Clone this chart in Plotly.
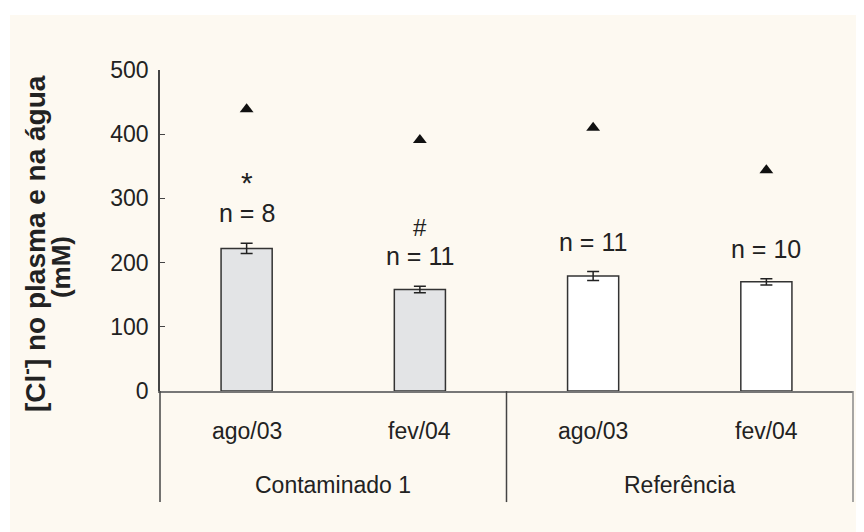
import plotly.graph_objects as go

# ---- data ----
groups = ["Contaminado 1", "Contaminado 1", "Referência", "Referência"]
periods = ["ago/03", "fev/04", "ago/03", "fev/04"]
plasma_mean = [222, 158, 179, 170]
plasma_err = [8, 5, 7, 5]
water = [439, 391, 410, 344]
n_labels = ["n = 8", "n = 11", "n = 11", "n = 10"]
sig_marks = ["*", "#", "", ""]
bar_colors = ["#e3e4e6", "#e3e4e6", "#ffffff", "#ffffff"]
y_ticks = [0, 100, 200, 300, 400, 500]
y_title = ["[Cl<sup>-</sup>] no plasma e na água", "(mM)"]

FONT = "Liberation Sans, Arial, sans-serif"
TXT = "#222222"
CREAM = "#fdf9f1"

xs = list(range(len(periods)))

fig = go.Figure()
fig.add_trace(go.Bar(
    x=xs, y=plasma_mean, width=0.295,
    marker=dict(color=bar_colors, line=dict(color="#333333", width=1.5)),
    error_y=dict(type="data", array=plasma_err, visible=True,
                 color="#222222", thickness=1.5, width=6),
    showlegend=False, hoverinfo="skip",
))
fig.add_trace(go.Scatter(
    x=xs, y=water, mode="markers",
    marker=dict(symbol="triangle-up", size=12, color="#111111"),
    showlegend=False, hoverinfo="skip",
))

annotations = []
for i, (m, e, nl, sm) in enumerate(zip(plasma_mean, plasma_err, n_labels, sig_marks)):
    annotations.append(dict(x=i, y=m + e, xref="x", yref="y", text=nl,
                            showarrow=False, yanchor="middle", yshift=30,
                            font=dict(family=FONT, size=25, color=TXT)))
    if sm:
        annotations.append(dict(x=i, y=m + e, xref="x", yref="y", text=sm,
                                showarrow=False, yanchor="middle",
                                yshift=61 if sm == "*" else 59,
                                font=dict(family=FONT, size=30 if sm == "*" else 24,
                                          color=TXT)))
    annotations.append(dict(x=i, y=0, xref="x", yref="paper", text=periods[i],
                            showarrow=False, yanchor="middle", yshift=-40,
                            font=dict(family=FONT, size=23, color=TXT)))

# group labels
uniq = []
for g in groups:
    if g not in uniq:
        uniq.append(g)
for g in uniq:
    idx = [i for i, gg in enumerate(groups) if gg == g]
    annotations.append(dict(x=sum(idx) / len(idx), y=0, xref="x", yref="paper",
                            text=g, showarrow=False, yanchor="middle", yshift=-94,
                            font=dict(family=FONT, size=23, color=TXT)))

# y-axis title (two lines)
annotations.append(dict(
    x=0, y=0.458, xref="paper", yref="paper", xshift=-127,
    text="<b>" + y_title[0] + "</b>",
    textangle=-90, showarrow=False, xanchor="center", yanchor="middle",
    font=dict(family=FONT, size=28, color=TXT)))
annotations.append(dict(
    x=0, y=0.386, xref="paper", yref="paper", xshift=-99,
    text="<b>" + y_title[1] + "</b>",
    textangle=-90, showarrow=False, xanchor="center", yanchor="middle",
    font=dict(family=FONT, size=26, color=TXT)))

shapes = [
    dict(type="rect", xref="paper", yref="paper", x0=-0.2165, x1=1.02,
         y0=-0.45, y1=1.171, fillcolor=CREAM, line=dict(width=0), layer="below"),
]
# group separators
n = len(periods)
bounds = [0]
for i in range(1, n):
    if groups[i] != groups[i - 1]:
        bounds.append(i / n)
bounds.append(1)
for b in bounds:
    shapes.append(dict(type="line", xref="paper", yref="paper", x0=b, x1=b,
                       y0=0, y1=-0.346,
                       line=dict(color="#444444" if b != 1 else "#888888", width=1.5)))

fig.update_layout(
    width=856, height=524,
    margin=dict(l=152, r=11, t=62, b=141),
    paper_bgcolor="white", plot_bgcolor=CREAM,
    font=dict(family=FONT, color=TXT),
    annotations=annotations, shapes=shapes,
    xaxis=dict(range=[-0.5, n - 0.5], showticklabels=False, ticks="",
               showgrid=False, zeroline=False, showline=True,
               linecolor="#777777", linewidth=1.5, fixedrange=True),
    yaxis=dict(range=[0, 500], tickvals=y_ticks, ticks="inside", ticklen=5,
               tickcolor="#444444", showgrid=False, zeroline=False,
               showline=True, linecolor="#444444", linewidth=1.5,
               tickfont=dict(family=FONT, size=23, color=TXT),
               ticklabelstandoff=5, fixedrange=True),
)

fig.write_html("out.html")
